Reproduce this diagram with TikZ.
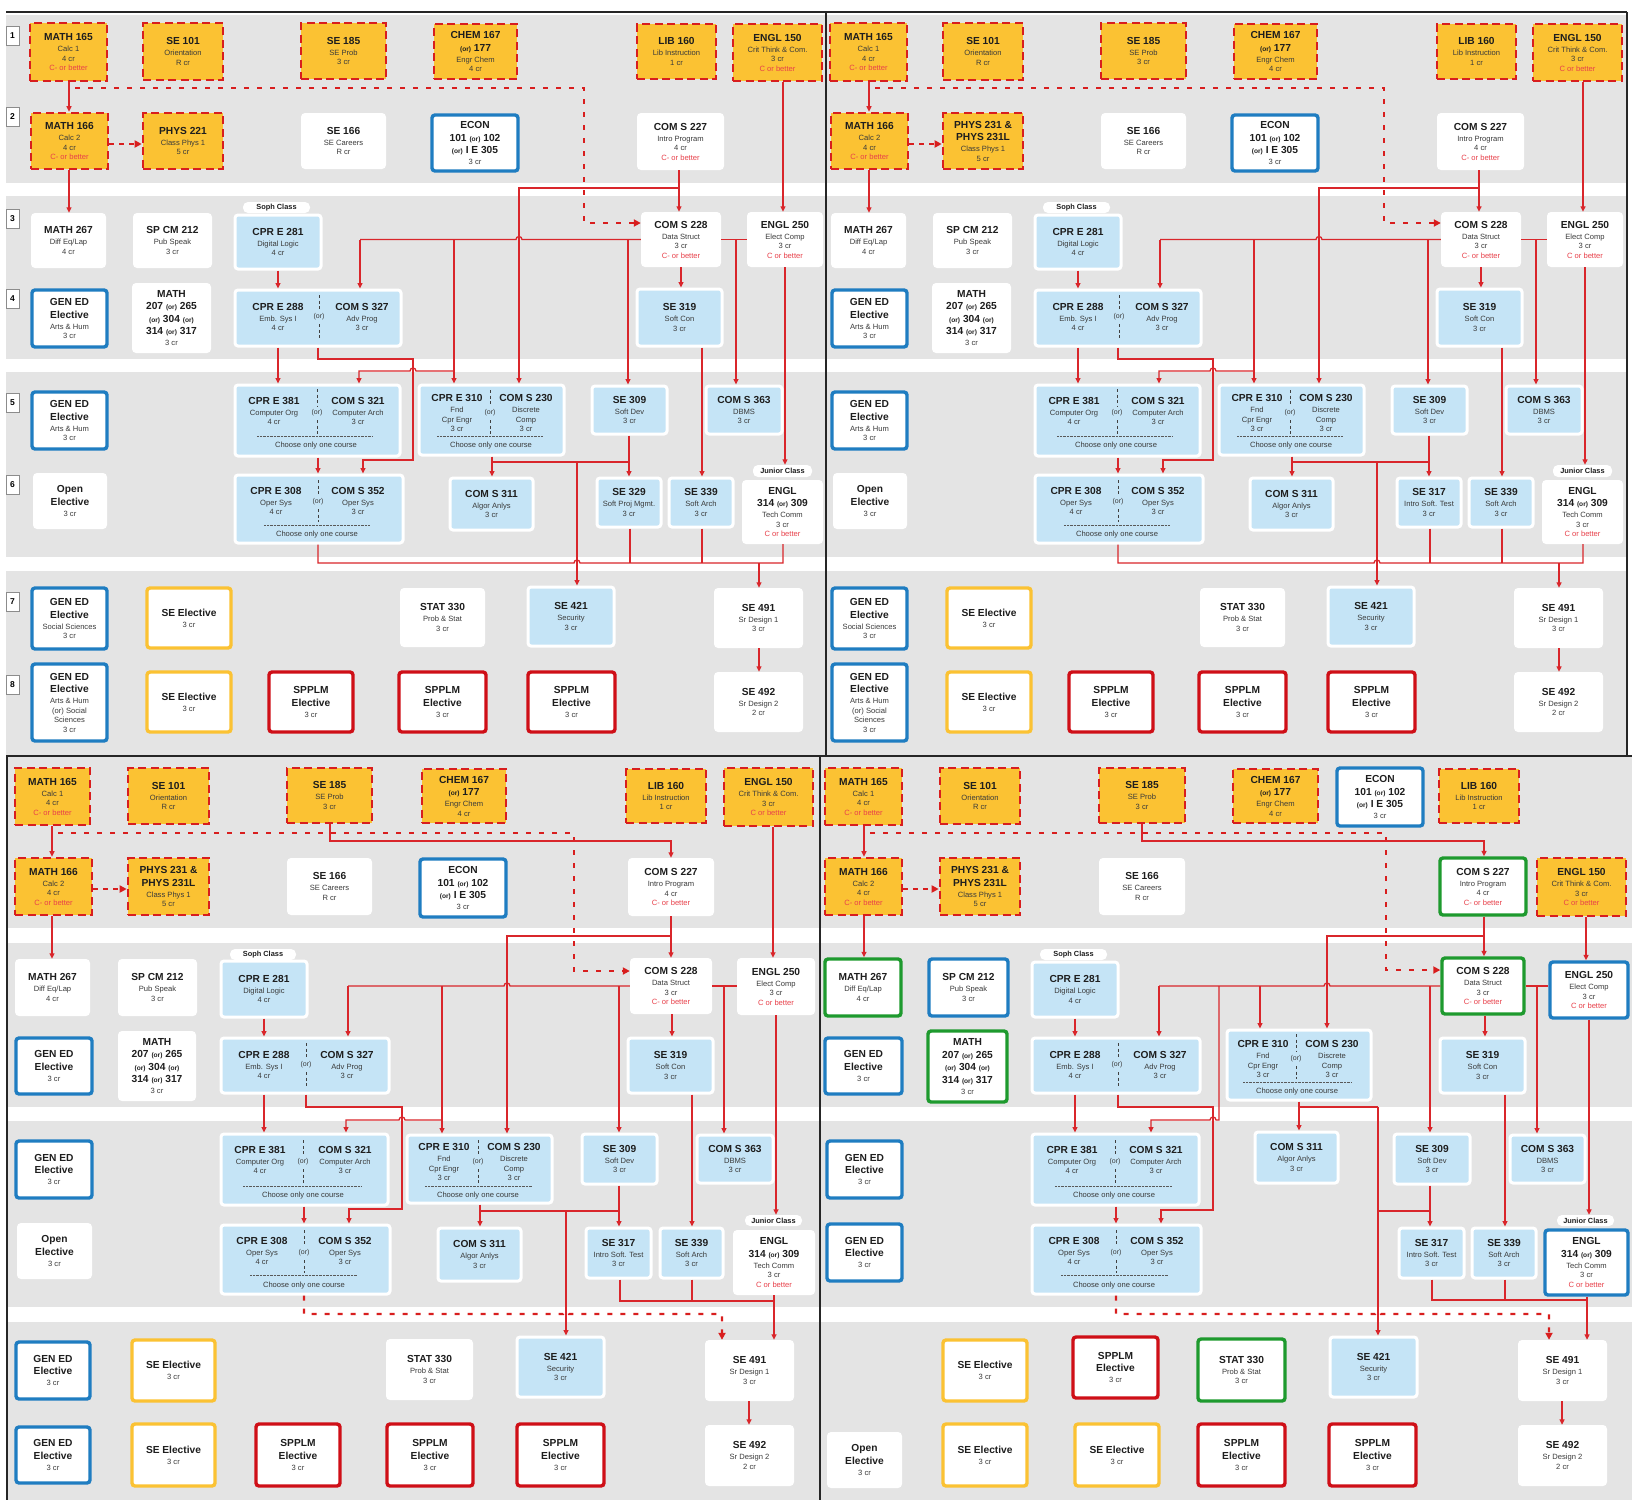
\documentclass[tikz,border=0pt]{standalone}
\usepackage{fontspec}
\setmainfont{Liberation Sans}
\usetikzlibrary{arrows.meta}
\definecolor{orafill}{HTML}{FBC233}
\definecolor{dashred}{HTML}{D81E1E}
\definecolor{lred}{HTML}{D9262B}
\definecolor{bluec}{HTML}{1F7DC1}
\definecolor{lbluec}{HTML}{C5E4F6}
\definecolor{grnc}{HTML}{1E9A2E}
\definecolor{sppred}{HTML}{CF0F17}
\definecolor{redtxt}{HTML}{E8404A}
\definecolor{bandc}{HTML}{E4E4E4}
\definecolor{ttlc}{HTML}{1E1E1E}
\definecolor{txtc}{HTML}{3A3A3A}
\newcommand\Tt[1]{{\fontsize{10.2}{11}\selectfont\bfseries\color{ttlc}#1}}
\newcommand\Rd[1]{{\color{redtxt}#1}}
\newcommand\Or{{\fontsize{6.6}{8}\selectfont(or)}}
\newcommand\Bx[7]{\node[#1,minimum width={#5pt-#3pt},minimum height={#6pt-#4pt}] (#2) at ({(#3+#5)/2},{(#4+#6)/2}) {#7};}
\tikzset{
 bbase/.style={inner sep=0pt, align=center, font=\fontsize{7.6}{9.5}\selectfont, text=txtc},
 ora/.style={bbase, fill=orafill, draw=dashred, line width=2.6pt, dash pattern=on 8pt off 4.5pt},
 wht/.style={bbase, fill=white, rounded corners=4pt},
 bluebd/.style={bbase, fill=white, draw=bluec, line width=3.4pt, rounded corners=3pt},
 yelbd/.style={bbase, fill=white, draw=orafill, line width=3.4pt, rounded corners=3pt},
 redbd/.style={bbase, fill=white, draw=sppred, line width=3.4pt, rounded corners=3pt},
 grnbd/.style={bbase, fill=white, draw=grnc, line width=3.4pt, rounded corners=3pt},
 lb/.style={bbase, fill=lbluec, draw=white, line width=3pt, rounded corners=3pt},
 lbl/.style={bbase, fill=white, rounded corners=5pt, font=\fontsize{7.4}{8}\selectfont\bfseries, text=ttlc},
 coltx/.style={inner sep=0pt, align=center, font=\fontsize{7.6}{9.5}\selectfont, text=txtc},
 ortx/.style={inner sep=0pt, font=\fontsize{7}{8}\selectfont, text=txtc},
 divl/.style={draw=black!75, line width=0.8pt, dash pattern=on 3pt off 2.5pt},
 sepl/.style={draw=black!65, line width=0.9pt, dash pattern=on 0.7pt off 0.7pt},
 cline/.style={draw=lred, line width=1.3pt},
 carr/.style={cline, -{Triangle[length=5.5pt,width=5pt]}},
 dotar/.style={draw=dashred, line width=2.4pt, dash pattern=on 5pt off 8pt, -{Triangle[length=7pt,width=7pt]}},
 dashar/.style={draw=dashred, line width=2.4pt, dash pattern=on 5pt off 5pt, -{Triangle[length=7pt,width=7pt]}},
 rnum/.style={fill=white, draw=black!45, line width=0.8pt, minimum width=13pt, minimum height=19pt, inner sep=0pt, font=\fontsize{8.5}{9}\selectfont\bfseries},
 frm/.style={draw=black!85, line width=1.3pt},
}
\newcommand\toppanel[2]{%
\fill[bandc] (6,15) rectangle (826,183);
\fill[bandc] (6,196) rectangle (826,359);
\fill[bandc] (6,372) rectangle (826,557);
\fill[bandc] (6,571) rectangle (826,755);
\node[rnum] (r1) at (12.5,35.5) {1};
\node[rnum] (r2) at (12.5,117) {2};
\node[rnum] (r3) at (12.5,218.5) {3};
\node[rnum] (r4) at (12.5,299) {4};
\node[rnum] (r5) at (12.5,403) {5};
\node[rnum] (r6) at (12.5,485) {6};
\node[rnum] (r7) at (12.5,602) {7};
\node[rnum] (r8) at (12.5,685) {8};
\Bx{ora}{m165}{30}{23}{107}{81}{\Tt{MATH 165}\\[1.5pt]Calc 1\\4 cr\\\Rd{C- or better}}
\Bx{ora}{se101}{143}{23}{223}{80}{\Tt{SE 101}\\[1.5pt]Orientation\\R cr}
\Bx{ora}{se185}{301}{23}{386}{79}{\Tt{SE 185}\\[1.5pt]SE Prob\\3 cr}
\Bx{ora}{chem}{434}{24}{517}{79}{\Tt{CHEM 167}\\[3pt]\Tt{\Or{} 177}\\[1.5pt]Engr Chem\\4 cr}
\Bx{ora}{lib}{637}{24}{716}{79}{\Tt{LIB 160}\\[1.5pt]Lib Instruction\\1 cr}
\Bx{ora}{e150}{733}{24}{822}{81}{\Tt{ENGL 150}\\[1.5pt]Crit Think \& Com.\\3 cr\\\Rd{C or better}}
\Bx{ora}{m166}{31}{113}{108}{169}{\Tt{MATH 166}\\[1.5pt]Calc 2\\4 cr\\\Rd{C- or better}}
\Bx{ora}{phys}{143}{113}{223}{169}{#1}
\Bx{wht}{se166}{301}{113}{386}{169}{\Tt{SE 166}\\[1.5pt]SE Careers\\R cr}
\Bx{bluebd}{econ}{432}{115}{518}{171}{\Tt{ECON}\\[3pt]\Tt{101 \Or{} 102}\\[3pt]\Tt{\Or{} I E 305}\\[1.5pt]3 cr}
\Bx{wht}{c227}{637}{113}{724}{170}{\Tt{COM S 227}\\[1.5pt]Intro Program\\4 cr\\\Rd{C- or better}}
\Bx{wht}{m267}{31}{213}{106}{268}{\Tt{MATH 267}\\[1.5pt]Diff Eq/Lap\\4 cr}
\Bx{wht}{sp212}{133}{213}{212}{268}{\Tt{SP CM 212}\\[1.5pt]Pub Speak\\3 cr}
\Bx{lbl}{soph}{243}{202}{310}{213}{Soph Class}
\Bx{lb}{c281}{235}{215}{321}{269}{\Tt{CPR E 281}\\[1.5pt]Digital Logic\\4 cr}
\Bx{wht}{c228}{641}{212}{721}{267}{\Tt{COM S 228}\\[1.5pt]Data Struct\\3 cr\\\Rd{C- or better}}
\Bx{wht}{e250}{747}{212}{823}{267}{\Tt{ENGL 250}\\[1.5pt]Elect Comp\\3 cr\\\Rd{C or better}}
\Bx{bluebd}{gen1}{32}{290}{107}{347}{\Tt{GEN ED}\\[3pt]\Tt{Elective}\\[1.5pt]Arts \& Hum\\3 cr}
\Bx{wht}{m207}{132}{283}{211}{353}{\Tt{MATH}\\[3pt]\Tt{207 \Or{} 265}\\[3pt]\Tt{\Or{} 304 \Or}\\[3pt]\Tt{314 \Or{} 317}\\[1.5pt]3 cr}
\Bx{lb}{c288}{235}{290}{401}{346}{}
\node[coltx] (c288a) at (278,317) {\Tt{CPR E 288}\\[1.5pt]Emb. Sys I\\4 cr};
\node[coltx] (c288b) at (362,317) {\Tt{COM S 327}\\[1.5pt]Adv Prog\\3 cr};
\node[ortx] (c288o) at (319,317) {(or)};
\draw[divl] (319,295) -- (319,310) (319,324) -- (319,339);
\Bx{lb}{se319}{637}{289}{722}{346}{\Tt{SE 319}\\[1.5pt]Soft Con\\3 cr}
\Bx{bluebd}{gen2}{32}{392}{107}{449}{\Tt{GEN ED}\\[3pt]\Tt{Elective}\\[1.5pt]Arts \& Hum\\3 cr}
\Bx{lb}{c381}{235}{385}{400}{456}{}
\node[coltx] (c381a) at (274,411) {\Tt{CPR E 381}\\[1.5pt]Computer Org\\4 cr};
\node[coltx] (c381b) at (358,411) {\Tt{COM S 321}\\[1.5pt]Computer Arch\\3 cr};
\node[ortx] (c381o) at (317,413) {(or)};
\draw[divl] (317,389) -- (317,406) (317,420) -- (317,434);
\draw[sepl] (257,436) -- (373,436);
\node[coltx] (c381c) at (316,446) {Choose only one course};
\Bx{lb}{c310}{419}{385}{564}{455}{}
\node[coltx] (c310a) at (457,413) {\Tt{CPR E 310}\\[1.5pt]Fnd\\Cpr Engr\\3 cr};
\node[coltx] (c310b) at (526,413) {\Tt{COM S 230}\\[1.5pt]Discrete\\Comp\\3 cr};
\node[ortx] (c310o) at (490,413) {(or)};
\draw[divl] (490,390) -- (490,406) (490,420) -- (490,434);
\draw[sepl] (437,436) -- (543,436);
\node[coltx] (c310c) at (491,446) {Choose only one course};
\Bx{lb}{se309}{592}{386}{667}{434}{\Tt{SE 309}\\[1.5pt]Soft Dev\\3 cr}
\Bx{lb}{c363}{706}{386}{782}{434}{\Tt{COM S 363}\\[1.5pt]DBMS\\3 cr}
\Bx{wht}{open}{33}{473}{107}{529}{\Tt{Open}\\[3pt]\Tt{Elective}\\[1.5pt]3 cr}
\Bx{lb}{c308}{235}{475}{403}{543}{}
\node[coltx] (c308a) at (276,501) {\Tt{CPR E 308}\\[1.5pt]Oper Sys\\4 cr};
\node[coltx] (c308b) at (358,501) {\Tt{COM S 352}\\[1.5pt]Oper Sys\\3 cr};
\node[ortx] (c308o) at (318,502) {(or)};
\draw[divl] (318,480) -- (318,495) (318,509) -- (318,522);
\draw[sepl] (264,525) -- (370,525);
\node[coltx] (c308c) at (317,535) {Choose only one course};
\Bx{lb}{c311}{450}{478}{533}{530}{\Tt{COM S 311}\\[1.5pt]Algor Anlys\\3 cr}
\Bx{lb}{s6}{597}{478}{661}{527}{#2}
\Bx{lb}{se339}{669}{478}{733}{527}{\Tt{SE 339}\\[1.5pt]Soft Arch\\3 cr}
\Bx{lbl}{jun}{753}{465}{812}{477}{Junior Class}
\Bx{wht}{e314}{742}{480}{823}{544}{\Tt{ENGL}\\[3pt]\Tt{314 \Or{} 309}\\[1.5pt]Tech Comm\\3 cr\\\Rd{C or better}}
\Bx{bluebd}{gen3}{32}{588}{107}{649}{\Tt{GEN ED}\\[3pt]\Tt{Elective}\\[1.5pt]Social Sciences\\3 cr}
\Bx{yelbd}{see1}{147}{588}{231}{648}{\Tt{SE Elective}\\[1.5pt]3 cr}
\Bx{wht}{stat}{400}{588}{485}{647}{\Tt{STAT 330}\\[1.5pt]Prob \& Stat\\3 cr}
\Bx{lb}{se421}{528}{587}{614}{646}{\Tt{SE 421}\\[1.5pt]Security\\3 cr}
\Bx{wht}{se491}{714}{588}{803}{648}{\Tt{SE 491}\\[1.5pt]Sr Design 1\\3 cr}
\Bx{bluebd}{gen4}{32}{664}{107}{741}{\Tt{GEN ED}\\[3pt]\Tt{Elective}\\[1.5pt]Arts \& Hum\\(or) Social\\Sciences\\3 cr}
\Bx{yelbd}{see2}{147}{672}{231}{732}{\Tt{SE Elective}\\[1.5pt]3 cr}
\Bx{redbd}{sp1}{269}{672}{353}{732}{\Tt{SPPLM}\\[3pt]\Tt{Elective}\\[1.5pt]3 cr}
\Bx{redbd}{sp2}{399}{672}{486}{732}{\Tt{SPPLM}\\[3pt]\Tt{Elective}\\[1.5pt]3 cr}
\Bx{redbd}{sp3}{528}{672}{615}{732}{\Tt{SPPLM}\\[3pt]\Tt{Elective}\\[1.5pt]3 cr}
\Bx{wht}{se492}{714}{672}{803}{732}{\Tt{SE 492}\\[1.5pt]Sr Design 2\\2 cr}
% connectors
\draw[carr] (m165.south -| 69,0) -- (m166.north -| 69,0);
\draw[dotar] (75,88) -- (584,88) |- (c228.west |- 0,223);
\draw[dashar] (m166.east |- 0,144) -- (phys.west |- 0,144);
\draw[carr] (m166.south -| 69,0) -- (m267.north -| 69,0);
\draw[carr] (e150.south -| 783,0) -- (e250.north -| 783,0);
\draw[carr] (c227.south -| 679,0) -- (c228.north -| 679,0);
\draw[carr] (679,188) -| (c310.north -| 519,0);
\draw[cline] (c228.west) -- (522,239.5) arc[start angle=0,end angle=180,radius=3pt] -- (360,239.5);
\draw[carr] (360,239.5) -- (c288.north -| 360,0);
\draw[carr] (628,239.5) -- (se309.north -| 628,0);
\draw[carr] (454,239.5) -- (c310.north -| 454,0);
\draw[carr] (454,371) -- (416,371) arc[start angle=0,end angle=180,radius=3pt] -- (359,371) -- (c381.north -| 359,0);
\draw[cline] (c228.east) -- (e250.west);
\draw[carr] (736,239.5) -- (c363.north -| 736,0);
\draw[carr] (c228.south -| 681,0) -- (se319.north -| 681,0);
\draw[carr] (se319.south -| 702,0) -- (se339.north -| 702,0);
\draw[carr] (e250.south -| 785,0) -- (jun.north -| 785,0);
\draw[carr] (c281.south -| 278,0) -- (c288.north -| 278,0);
\draw[carr] (c288.south -| 278,0) -- (c381.north -| 278,0);
\draw[carr] (c288.south -| 318,0) |- (413,359) -- (413,460) -| (c308.north -| 363,0);
\draw[carr] (c381.south -| 318,0) -- (c308.north -| 318,0);
\draw[carr] (c310.south -| 492,0) -- (c311.north -| 492,0);
\draw[cline] (492,462) -- (629,462);
\draw[carr] (se309.south -| 629,0) -- (s6.north -| 629,0);
\draw[carr] (577,462) -- (se421.north -| 577,0);
\draw[cline] (c308.south -| 318,0) |- (574,563) arc[start angle=180,end angle=0,radius=3pt] -- (783,563) -- (e314.south -| 783,0);
\draw[cline] (s6.south -| 630,0) -- (630,563);
\draw[cline] (se339.south -| 702,0) -- (702,563);
\draw[carr] (759,563) -- (se491.north -| 759,0);
\draw[carr] (se491.south -| 759,0) -- (se492.north -| 759,0);
}
\begin{document}
\begin{tikzpicture}[x=1pt,y=-1pt]
\useasboundingbox[fill=white] (0,0) rectangle (1632,1500);
% ===== top-left
\begin{scope}[name prefix=tl-]
\toppanel{\Tt{PHYS 221}\\[1.5pt]Class Phys 1\\5 cr}{\Tt{SE 329}\\[1.5pt]Soft Proj Mgmt.\\3 cr}
\end{scope}
% ===== top-right
\begin{scope}
\clip (826,0) rectangle (1632,756);
\begin{scope}[xshift=800pt,name prefix=tr-]
\toppanel{\Tt{PHYS 231 \&}\\[3pt]\Tt{PHYS 231L}\\[1.5pt]Class Phys 1\\5 cr}{\Tt{SE 317}\\[1.5pt]Intro Soft. Test\\3 cr}
\end{scope}
\end{scope}
% ===== bottom-left
\begin{scope}[name prefix=bl-]
\fill[bandc] (7,756) rectangle (820,928);
\fill[bandc] (7,943) rectangle (820,1107);
\fill[bandc] (7,1121) rectangle (820,1307);
\fill[bandc] (7,1322) rectangle (820,1500);
\Bx{ora}{m165}{15}{768}{90}{825}{\Tt{MATH 165}\\[1.5pt]Calc 1\\4 cr\\\Rd{C- or better}}
\Bx{ora}{se101}{128}{768}{209}{824}{\Tt{SE 101}\\[1.5pt]Orientation\\R cr}
\Bx{ora}{se185}{287}{768}{372}{823}{\Tt{SE 185}\\[1.5pt]SE Prob\\3 cr}
\Bx{ora}{chem}{422}{769}{506}{823}{\Tt{CHEM 167}\\[3pt]\Tt{\Or{} 177}\\[1.5pt]Engr Chem\\4 cr}
\Bx{ora}{lib}{626}{769}{706}{823}{\Tt{LIB 160}\\[1.5pt]Lib Instruction\\1 cr}
\Bx{ora}{e150}{724}{768}{813}{826}{\Tt{ENGL 150}\\[1.5pt]Crit Think \& Com.\\3 cr\\\Rd{C or better}}
\Bx{ora}{m166}{15}{858}{92}{915}{\Tt{MATH 166}\\[1.5pt]Calc 2\\4 cr\\\Rd{C- or better}}
\Bx{ora}{phys}{128}{858}{209}{915}{\Tt{PHYS 231 \&}\\[3pt]\Tt{PHYS 231L}\\[1.5pt]Class Phys 1\\5 cr}
\Bx{wht}{se166}{287}{858}{372}{915}{\Tt{SE 166}\\[1.5pt]SE Careers\\R cr}
\Bx{bluebd}{econ}{420}{859}{506}{917}{\Tt{ECON}\\[3pt]\Tt{101 \Or{} 102}\\[3pt]\Tt{\Or{} I E 305}\\[1.5pt]3 cr}
\Bx{wht}{c227}{628}{858}{714}{916}{\Tt{COM S 227}\\[1.5pt]Intro Program\\4 cr\\\Rd{C- or better}}
\Bx{lbl}{soph}{230}{949}{296}{960}{Soph Class}
\Bx{wht}{m267}{15}{959}{90}{1016}{\Tt{MATH 267}\\[1.5pt]Diff Eq/Lap\\4 cr}
\Bx{wht}{sp212}{118}{959}{197}{1016}{\Tt{SP CM 212}\\[1.5pt]Pub Speak\\3 cr}
\Bx{lb}{c281}{221}{961}{307}{1017}{\Tt{CPR E 281}\\[1.5pt]Digital Logic\\4 cr}
\Bx{wht}{c228}{630}{958}{712}{1014}{\Tt{COM S 228}\\[1.5pt]Data Struct\\3 cr\\\Rd{C- or better}}
\Bx{wht}{e250}{737}{958}{815}{1015}{\Tt{ENGL 250}\\[1.5pt]Elect Comp\\3 cr\\\Rd{C or better}}
\Bx{bluebd}{gen1}{16}{1038}{92}{1094}{\Tt{GEN ED}\\[3pt]\Tt{Elective}\\[1.5pt]3 cr}
\Bx{wht}{m207}{118}{1031}{196}{1101}{\Tt{MATH}\\[3pt]\Tt{207 \Or{} 265}\\[3pt]\Tt{\Or{} 304 \Or}\\[3pt]\Tt{314 \Or{} 317}\\[1.5pt]3 cr}
\Bx{lb}{c288}{221}{1038}{389}{1093}{}
\node[coltx] (c288a) at (264,1065) {\Tt{CPR E 288}\\[1.5pt]Emb. Sys I\\4 cr};
\node[coltx] (c288b) at (347,1065) {\Tt{COM S 327}\\[1.5pt]Adv Prog\\3 cr};
\node[ortx] (c288o) at (306,1065) {(or)};
\draw[divl] (306,1043) -- (306,1058) (306,1072) -- (306,1088);
\Bx{lb}{se319}{628}{1038}{713}{1093}{\Tt{SE 319}\\[1.5pt]Soft Con\\3 cr}
\Bx{bluebd}{gen2}{16}{1141}{92}{1198}{\Tt{GEN ED}\\[3pt]\Tt{Elective}\\[1.5pt]3 cr}
\Bx{lb}{c381}{221}{1134}{388}{1205}{}
\node[coltx] (c381a) at (260,1160) {\Tt{CPR E 381}\\[1.5pt]Computer Org\\4 cr};
\node[coltx] (c381b) at (345,1160) {\Tt{COM S 321}\\[1.5pt]Computer Arch\\3 cr};
\node[ortx] (c381o) at (303,1162) {(or)};
\draw[divl] (303,1140) -- (303,1155) (303,1169) -- (303,1183);
\draw[sepl] (243,1186) -- (361,1186);
\node[coltx] (c381c) at (303,1196) {Choose only one course};
\Bx{lb}{c310}{407}{1135}{552}{1203}{}
\node[coltx] (c310a) at (444,1162) {\Tt{CPR E 310}\\[1.5pt]Fnd\\Cpr Engr\\3 cr};
\node[coltx] (c310b) at (514,1162) {\Tt{COM S 230}\\[1.5pt]Discrete\\Comp\\3 cr};
\node[ortx] (c310o) at (478,1162) {(or)};
\draw[divl] (478,1140) -- (478,1155) (478,1169) -- (478,1184);
\draw[sepl] (425,1186) -- (532,1186);
\node[coltx] (c310c) at (478,1196) {Choose only one course};
\Bx{lb}{se309}{582}{1134}{657}{1184}{\Tt{SE 309}\\[1.5pt]Soft Dev\\3 cr}
\Bx{lb}{c363}{697}{1135}{773}{1183}{\Tt{COM S 363}\\[1.5pt]DBMS\\3 cr}
\Bx{wht}{open}{17}{1223}{92}{1279}{\Tt{Open}\\[3pt]\Tt{Elective}\\[1.5pt]3 cr}
\Bx{lb}{c308}{221}{1225}{390}{1294}{}
\node[coltx] (c308a) at (262,1251) {\Tt{CPR E 308}\\[1.5pt]Oper Sys\\4 cr};
\node[coltx] (c308b) at (345,1251) {\Tt{COM S 352}\\[1.5pt]Oper Sys\\3 cr};
\node[ortx] (c308o) at (304,1253) {(or)};
\draw[divl] (304,1230) -- (304,1246) (304,1260) -- (304,1273);
\draw[sepl] (250,1275) -- (357,1275);
\node[coltx] (c308c) at (304,1286) {Choose only one course};
\Bx{lb}{c311}{438}{1228}{521}{1281}{\Tt{COM S 311}\\[1.5pt]Algor Anlys\\3 cr}
\Bx{lb}{se317}{586}{1228}{651}{1278}{\Tt{SE 317}\\[1.5pt]Intro Soft. Test\\3 cr}
\Bx{lb}{se339}{660}{1228}{723}{1278}{\Tt{SE 339}\\[1.5pt]Soft Arch\\3 cr}
\Bx{lbl}{jun}{745}{1215}{802}{1226}{Junior Class}
\Bx{wht}{e314}{733}{1230}{815}{1295}{\Tt{ENGL}\\[3pt]\Tt{314 \Or{} 309}\\[1.5pt]Tech Comm\\3 cr\\\Rd{C or better}}
\Bx{bluebd}{gen3}{16}{1342}{90}{1399}{\Tt{GEN ED}\\[3pt]\Tt{Elective}\\[1.5pt]3 cr}
\Bx{yelbd}{see1}{132}{1340}{215}{1401}{\Tt{SE Elective}\\[1.5pt]3 cr}
\Bx{wht}{stat}{386}{1339}{473}{1400}{\Tt{STAT 330}\\[1.5pt]Prob \& Stat\\3 cr}
\Bx{lb}{se421}{517}{1337}{604}{1397}{\Tt{SE 421}\\[1.5pt]Security\\3 cr}
\Bx{wht}{se491}{705}{1340}{794}{1401}{\Tt{SE 491}\\[1.5pt]Sr Design 1\\3 cr}
\Bx{bluebd}{gen4}{16}{1427}{90}{1483}{\Tt{GEN ED}\\[3pt]\Tt{Elective}\\[1.5pt]3 cr}
\Bx{yelbd}{see2}{132}{1424}{215}{1486}{\Tt{SE Elective}\\[1.5pt]3 cr}
\Bx{redbd}{sp1}{256}{1424}{340}{1486}{\Tt{SPPLM}\\[3pt]\Tt{Elective}\\[1.5pt]3 cr}
\Bx{redbd}{sp2}{387}{1424}{473}{1486}{\Tt{SPPLM}\\[3pt]\Tt{Elective}\\[1.5pt]3 cr}
\Bx{redbd}{sp3}{517}{1424}{604}{1486}{\Tt{SPPLM}\\[3pt]\Tt{Elective}\\[1.5pt]3 cr}
\Bx{wht}{se492}{705}{1425}{794}{1486}{\Tt{SE 492}\\[1.5pt]Sr Design 2\\2 cr}
\draw[carr] (m165.south -| 52,0) -- (m166.north -| 52,0);
\draw[dotar] (58,833) -- (574,833) |- (c228.west |- 0,971);
\draw[dashar] (m166.east |- 0,889) -- (phys.west |- 0,889);
\draw[carr] (m166.south -| 52,0) -- (m267.north -| 52,0);
\draw[carr] (se185.south -| 330,0) |- (671,841) -- (c227.north -| 671,0);
\draw[carr] (e150.south -| 773,0) -- (e250.north -| 773,0);
\draw[carr] (c227.south -| 671,0) -- (c228.north -| 671,0);
\draw[carr] (671,936) -| (c310.north -| 507,0);
\draw[cline] (c228.west |- 0,986) -- (510,986) arc[start angle=0,end angle=180,radius=3pt] -- (348,986);
\draw[carr] (348,986) -- (c288.north -| 348,0);
\draw[carr] (619,986) -- (se309.north -| 619,0);
\draw[carr] (442,986) -- (c310.north -| 442,0);
\draw[carr] (442,1120) -- (405,1120) arc[start angle=0,end angle=180,radius=3pt] -- (346,1120) -- (c381.north -| 346,0);
\draw[cline] (c228.east |- 0,986) -- (e250.west |- 0,986);
\draw[carr] (724,986) -- (c363.north -| 724,0);
\draw[carr] (c281.south -| 264,0) -- (c288.north -| 264,0);
\draw[carr] (c288.south -| 264,0) -- (c381.north -| 264,0);
\draw[carr] (c288.south -| 306,0) |- (402,1107) -- (402,1209) -| (c308.north -| 349,0);
\draw[carr] (c228.south -| 672,0) -- (se319.north -| 672,0);
\draw[carr] (se319.south -| 692,0) -- (se339.north -| 692,0);
\draw[carr] (e250.south -| 776,0) -- (jun.north -| 776,0);
\draw[carr] (c381.south -| 304,0) -- (c308.north -| 304,0);
\draw[carr] (c310.south -| 480,0) -- (c311.north -| 480,0);
\draw[cline] (480,1211) -- (619,1211);
\draw[carr] (se309.south -| 619,0) -- (se317.north -| 619,0);
\draw[carr] (566,1211) -- (se421.north -| 566,0);
\draw[cline] (se317.south -| 620,0) |- (774,1301);
\draw[cline] (se339.south -| 692,0) -- (692,1301);
\draw[carr] (e314.south -| 774,0) -- (se491.north -| 774,0);
\draw[dotar] (c308.south -| 304,0) |- (563,1314) arc[start angle=180,end angle=0,radius=3pt] -- (722,1314) -- (se491.north -| 722,0);
\draw[carr] (se491.south -| 749,0) -- (se492.north -| 749,0);
\end{scope}
% ===== bottom-right
\begin{scope}[name prefix=br-]
\fill[bandc] (820,756) rectangle (1632,928);
\fill[bandc] (820,943) rectangle (1632,1107);
\fill[bandc] (820,1121) rectangle (1632,1307);
\fill[bandc] (820,1322) rectangle (1632,1500);
\Bx{ora}{m165}{825}{768}{902}{825}{\Tt{MATH 165}\\[1.5pt]Calc 1\\4 cr\\\Rd{C- or better}}
\Bx{ora}{se101}{940}{768}{1020}{824}{\Tt{SE 101}\\[1.5pt]Orientation\\R cr}
\Bx{ora}{se185}{1099}{768}{1185}{823}{\Tt{SE 185}\\[1.5pt]SE Prob\\3 cr}
\Bx{ora}{chem}{1233}{769}{1318}{823}{\Tt{CHEM 167}\\[3pt]\Tt{\Or{} 177}\\[1.5pt]Engr Chem\\4 cr}
\Bx{bluebd}{econ}{1337}{768}{1423}{826}{\Tt{ECON}\\[3pt]\Tt{101 \Or{} 102}\\[3pt]\Tt{\Or{} I E 305}\\[1.5pt]3 cr}
\Bx{ora}{lib}{1439}{769}{1519}{823}{\Tt{LIB 160}\\[1.5pt]Lib Instruction\\1 cr}
\Bx{ora}{m166}{825}{858}{902}{915}{\Tt{MATH 166}\\[1.5pt]Calc 2\\4 cr\\\Rd{C- or better}}
\Bx{ora}{phys}{940}{858}{1020}{915}{\Tt{PHYS 231 \&}\\[3pt]\Tt{PHYS 231L}\\[1.5pt]Class Phys 1\\5 cr}
\Bx{wht}{se166}{1099}{858}{1185}{915}{\Tt{SE 166}\\[1.5pt]SE Careers\\R cr}
\Bx{grnbd}{c227}{1440}{858}{1526}{915}{\Tt{COM S 227}\\[1.5pt]Intro Program\\4 cr\\\Rd{C- or better}}
\Bx{ora}{e150}{1537}{858}{1626}{916}{\Tt{ENGL 150}\\[1.5pt]Crit Think \& Com.\\3 cr\\\Rd{C or better}}
\Bx{lbl}{soph}{1040}{949}{1107}{960}{Soph Class}
\Bx{grnbd}{m267}{825}{959}{901}{1016}{\Tt{MATH 267}\\[1.5pt]Diff Eq/Lap\\4 cr}
\Bx{bluebd}{sp212}{929}{959}{1008}{1016}{\Tt{SP CM 212}\\[1.5pt]Pub Speak\\3 cr}
\Bx{lb}{c281}{1032}{962}{1118}{1017}{\Tt{CPR E 281}\\[1.5pt]Digital Logic\\4 cr}
\Bx{grnbd}{c228}{1442}{958}{1524}{1014}{\Tt{COM S 228}\\[1.5pt]Data Struct\\3 cr\\\Rd{C- or better}}
\Bx{bluebd}{e250}{1550}{962}{1628}{1018}{\Tt{ENGL 250}\\[1.5pt]Elect Comp\\3 cr\\\Rd{C or better}}
\Bx{bluebd}{gen1}{825}{1038}{902}{1094}{\Tt{GEN ED}\\[3pt]\Tt{Elective}\\[1.5pt]3 cr}
\Bx{grnbd}{m207}{928}{1031}{1007}{1102}{\Tt{MATH}\\[3pt]\Tt{207 \Or{} 265}\\[3pt]\Tt{\Or{} 304 \Or}\\[3pt]\Tt{314 \Or{} 317}\\[1.5pt]3 cr}
\Bx{lb}{c288}{1032}{1038}{1200}{1093}{}
\node[coltx] (c288a) at (1075,1065) {\Tt{CPR E 288}\\[1.5pt]Emb. Sys I\\4 cr};
\node[coltx] (c288b) at (1160,1065) {\Tt{COM S 327}\\[1.5pt]Adv Prog\\3 cr};
\node[ortx] (c288o) at (1117,1065) {(or)};
\draw[divl] (1118,1043) -- (1118,1058) (1118,1072) -- (1118,1088);
\Bx{lb}{c310}{1227}{1030}{1371}{1100}{}
\node[coltx] (c310a) at (1263,1059) {\Tt{CPR E 310}\\[1.5pt]Fnd\\Cpr Engr\\3 cr};
\node[coltx] (c310b) at (1332,1059) {\Tt{COM S 230}\\[1.5pt]Discrete\\Comp\\3 cr};
\node[ortx] (c310o) at (1296,1059) {(or)};
\draw[divl] (1296,1034) -- (1296,1052) (1296,1066) -- (1296,1079);
\draw[sepl] (1243,1082) -- (1351,1082);
\node[coltx] (c310c) at (1297,1092) {Choose only one course};
\Bx{lb}{se319}{1440}{1038}{1525}{1093}{\Tt{SE 319}\\[1.5pt]Soft Con\\3 cr}
\Bx{bluebd}{gen2}{827}{1141}{902}{1198}{\Tt{GEN ED}\\[3pt]\Tt{Elective}\\[1.5pt]3 cr}
\Bx{lb}{c381}{1032}{1134}{1199}{1205}{}
\node[coltx] (c381a) at (1072,1160) {\Tt{CPR E 381}\\[1.5pt]Computer Org\\4 cr};
\node[coltx] (c381b) at (1156,1160) {\Tt{COM S 321}\\[1.5pt]Computer Arch\\3 cr};
\node[ortx] (c381o) at (1115,1162) {(or)};
\draw[divl] (1115,1140) -- (1115,1155) (1115,1169) -- (1115,1183);
\draw[sepl] (1055,1186) -- (1172,1186);
\node[coltx] (c381c) at (1114,1196) {Choose only one course};
\Bx{lb}{c311}{1255}{1132}{1338}{1183}{\Tt{COM S 311}\\[1.5pt]Algor Anlys\\3 cr}
\Bx{lb}{se309}{1394}{1134}{1470}{1184}{\Tt{SE 309}\\[1.5pt]Soft Dev\\3 cr}
\Bx{lb}{c363}{1510}{1135}{1585}{1183}{\Tt{COM S 363}\\[1.5pt]DBMS\\3 cr}
\Bx{bluebd}{gen3}{827}{1224}{902}{1281}{\Tt{GEN ED}\\[3pt]\Tt{Elective}\\[1.5pt]3 cr}
\Bx{lb}{c308}{1032}{1225}{1201}{1294}{}
\node[coltx] (c308a) at (1074,1251) {\Tt{CPR E 308}\\[1.5pt]Oper Sys\\4 cr};
\node[coltx] (c308b) at (1157,1251) {\Tt{COM S 352}\\[1.5pt]Oper Sys\\3 cr};
\node[ortx] (c308o) at (1116,1253) {(or)};
\draw[divl] (1116,1230) -- (1116,1246) (1116,1260) -- (1116,1273);
\draw[sepl] (1061,1275) -- (1168,1275);
\node[coltx] (c308c) at (1114,1286) {Choose only one course};
\Bx{lb}{se317}{1399}{1228}{1464}{1278}{\Tt{SE 317}\\[1.5pt]Intro Soft. Test\\3 cr}
\Bx{lb}{se339}{1472}{1228}{1536}{1278}{\Tt{SE 339}\\[1.5pt]Soft Arch\\3 cr}
\Bx{lbl}{jun}{1557}{1215}{1614}{1226}{Junior Class}
\Bx{bluebd}{e314}{1545}{1230}{1628}{1295}{\Tt{ENGL}\\[3pt]\Tt{314 \Or{} 309}\\[1.5pt]Tech Comm\\3 cr\\\Rd{C or better}}
\Bx{yelbd}{see1}{943}{1340}{1027}{1401}{\Tt{SE Elective}\\[1.5pt]3 cr}
\Bx{redbd}{sp1}{1073}{1337}{1158}{1398}{\Tt{SPPLM}\\[3pt]\Tt{Elective}\\[1.5pt]3 cr}
\Bx{grnbd}{stat}{1198}{1339}{1285}{1401}{\Tt{STAT 330}\\[1.5pt]Prob \& Stat\\3 cr}
\Bx{lb}{se421}{1330}{1337}{1417}{1397}{\Tt{SE 421}\\[1.5pt]Security\\3 cr}
\Bx{wht}{se491}{1518}{1340}{1607}{1401}{\Tt{SE 491}\\[1.5pt]Sr Design 1\\3 cr}
\Bx{wht}{open}{827}{1432}{902}{1488}{\Tt{Open}\\[3pt]\Tt{Elective}\\[1.5pt]3 cr}
\Bx{yelbd}{see2}{943}{1424}{1027}{1486}{\Tt{SE Elective}\\[1.5pt]3 cr}
\Bx{yelbd}{see3}{1075}{1424}{1159}{1486}{\Tt{SE Elective}\\[1.5pt]3 cr}
\Bx{redbd}{sp2}{1198}{1424}{1285}{1486}{\Tt{SPPLM}\\[3pt]\Tt{Elective}\\[1.5pt]3 cr}
\Bx{redbd}{sp3}{1329}{1424}{1416}{1486}{\Tt{SPPLM}\\[3pt]\Tt{Elective}\\[1.5pt]3 cr}
\Bx{wht}{se492}{1518}{1425}{1607}{1486}{\Tt{SE 492}\\[1.5pt]Sr Design 2\\2 cr}
\draw[carr] (m165.south -| 864,0) -- (m166.north -| 864,0);
\draw[dotar] (870,833) -- (1386,833) |- (c228.west |- 0,970);
\draw[dashar] (m166.east |- 0,889) -- (phys.west |- 0,889);
\draw[carr] (m166.south -| 864,0) -- (m267.north -| 864,0);
\draw[carr] (se185.south -| 1142,0) |- (1484,841) -- (c227.north -| 1484,0);
\draw[carr] (e150.south -| 1586,0) -- (e250.north -| 1586,0);
\draw[carr] (c227.south -| 1484,0) -- (c228.north -| 1484,0);
\draw[carr] (1484,936) -| (c310.north -| 1327,0);
\draw[cline] (c228.west |- 0,986) -- (1330,986) arc[start angle=0,end angle=180,radius=3pt] -- (1159,986);
\draw[carr] (1159,986) -- (c288.north -| 1159,0);
\draw[carr] (1430,986) -- (se309.north -| 1430,0);
\draw[carr] (1260,986) -- (c310.north -| 1260,0);
\draw[carr] (1219,986) -- (1219,1120) -- (1216,1120) arc[start angle=0,end angle=180,radius=3pt] -- (1151,1120) -- (c381.north -| 1151,0);
\draw[cline] (c228.east |- 0,986) -- (e250.west |- 0,986);
\draw[carr] (1537,986) -- (c363.north -| 1537,0);
\draw[carr] (c281.south -| 1075,0) -- (c288.north -| 1075,0);
\draw[carr] (c288.south -| 1075,0) -- (c381.north -| 1075,0);
\draw[carr] (c288.south -| 1118,0) |- (1213,1107) -- (1213,1210) -| (c308.north -| 1161,0);
\draw[carr] (c228.south -| 1485,0) -- (se319.north -| 1485,0);
\draw[carr] (se319.south -| 1505,0) -- (se339.north -| 1505,0);
\draw[carr] (e250.south -| 1589,0) -- (jun.north -| 1589,0);
\draw[carr] (c310.south -| 1299,0) -- (c311.north -| 1299,0);
\draw[cline] (1299,1107) -- (1378,1107);
\draw[carr] (1378,1107) -- (se421.north -| 1378,0);
\draw[cline] (1378,1211) -- (1430,1211);
\draw[carr] (se309.south -| 1430,0) -- (se317.north -| 1430,0);
\draw[carr] (c381.south -| 1116,0) -- (c308.north -| 1116,0);
\draw[cline] (se317.south -| 1432,0) |- (1587,1300);
\draw[cline] (se339.south -| 1505,0) -- (1505,1300);
\draw[carr] (e314.south -| 1587,0) -- (se491.north -| 1587,0);
\draw[dotar] (c308.south -| 1116,0) |- (1375,1314) arc[start angle=180,end angle=0,radius=3pt] -- (1549,1314) -- (se491.north -| 1549,0);
\draw[carr] (se491.south -| 1562,0) -- (se492.north -| 1562,0);
\end{scope}
% ===== frames
\draw[frm] (6,12) -- (1627,12);
\draw[frm] (826,12) -- (826,756);
\draw[frm] (1627,12) -- (1627,756);
\draw[frm] (6,756) -- (1632,756);
\draw[frm] (7,756) -- (7,1500);
\draw[frm] (820,756) -- (820,1500);
\end{tikzpicture}
\end{document}
